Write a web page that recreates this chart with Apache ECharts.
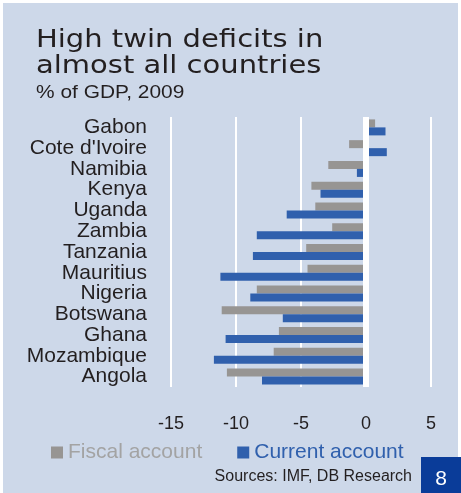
<!DOCTYPE html>
<html><head><meta charset="utf-8">
<script src="https://cdn.jsdelivr.net/npm/echarts@6/dist/echarts.min.js"></script>
<style>html,body{margin:0;padding:0;background:#fff}#c{width:461px;height:493px}</style>
</head><body><div id="c"></div>
<script>
const categories = ['Gabon', "Cote d'Ivoire", 'Namibia', 'Kenya', 'Uganda', 'Zambia', 'Tanzania', 'Mauritius', 'Nigeria', 'Botswana', 'Ghana', 'Mozambique', 'Angola'];
const fiscalAccount = [0.7, -1.3, -2.9, -4.2, -3.9, -2.6, -4.6, -4.5, -8.4, -11.1, -6.7, -7.1, -10.7];
const currentAccount = [1.5, 1.6, -0.7, -3.5, -6.1, -8.4, -8.7, -11.2, -8.9, -6.4, -10.8, -11.7, -8.0];
const xTicks = [-15, -10, -5, 0, 5];
const titleLines = ['High twin deficits in', 'almost all countries'];
const subtitle = '% of GDP, 2009';
const source = 'Sources: IMF, DB Research';
const pageNo = '8';

const chart = echarts.init(document.getElementById('c'), null, {renderer: 'canvas'});
const BG = '#CDD8E9', GRAY = '#979593', BLUE = '#3060AD';
chart.setOption({
  animation: false,
  backgroundColor: '#ffffff',
  graphic: [
    {type: 'rect', z: -10, shape: {x: 3, y: 3, width: 455, height: 490}, style: {fill: BG}},
    {type: 'text', x: 36, y: 40, scaleX: 1.16, style: {text: titleLines[0], font: '25px "DejaVu Sans"', fill: '#231F20', verticalAlign: 'middle'}},
    {type: 'text', x: 36, y: 66, scaleX: 1.16, style: {text: titleLines[1], font: '25px "DejaVu Sans"', fill: '#231F20', verticalAlign: 'middle'}},
    {type: 'text', x: 36, y: 93, scaleX: 1.1, style: {text: subtitle, font: '19px "Liberation Sans"', fill: '#231F20', verticalAlign: 'middle'}},
    {type: 'text', x: 412, y: 477, style: {text: source, font: '16px "Liberation Sans"', fill: '#231F20', align: 'right', verticalAlign: 'middle'}},
    {type: 'rect', shape: {x: 421, y: 457, width: 40, height: 36}, style: {fill: '#0A3C99'}},
    {type: 'text', x: 441, y: 479, style: {text: pageNo, font: '21px "Liberation Sans"', fill: '#ffffff', align: 'center', verticalAlign: 'middle'}}
  ],
  legend: {
    left: 51, top: 442, padding: 0, itemWidth: 12, itemHeight: 12, itemGap: 35, icon: 'rect',
    textStyle: {fontFamily: 'Liberation Sans', fontSize: 21},
    data: [
      {name: 'Fiscal account', textStyle: {color: '#A3A3A3'}},
      {name: 'Current account', textStyle: {color: BLUE}}
    ]
  },
  grid: {left: 171, top: 117, width: 260, height: 270, containLabel: false, outerBoundsMode: 'none'},
  xAxis: {
    type: 'value', min: -15, max: 5, interval: 5,
    axisLine: {show: false}, axisTick: {show: false},
    splitLine: {show: true, lineStyle: {color: '#ffffff', width: 2}},
    axisLabel: {fontFamily: 'Liberation Sans', fontSize: 18, color: '#231F20', margin: 28,
      formatter: v => xTicks.includes(v) ? String(v) : ''}
  },
  yAxis: {
    type: 'category', data: categories, inverse: true,
    axisLine: {show: false, onZero: false},
    axisTick: {show: false}, splitLine: {show: false},
    axisLabel: {fontFamily: 'Liberation Sans', fontSize: 21, color: '#231F20', margin: 24, interval: 0}
  },
  series: [
    {name: 'Fiscal account', type: 'bar', data: fiscalAccount, barWidth: 8, barGap: '0%', itemStyle: {color: GRAY}},
    {name: 'Current account', type: 'bar', data: currentAccount, barWidth: 8, barGap: '0%', itemStyle: {color: BLUE},
      markLine: {silent: true, symbol: 'none', z: 10, label: {show: false},
        lineStyle: {color: '#ffffff', width: 6, type: 'solid'}, data: [{xAxis: 0}]}}
  ]
});
</script></body></html>
